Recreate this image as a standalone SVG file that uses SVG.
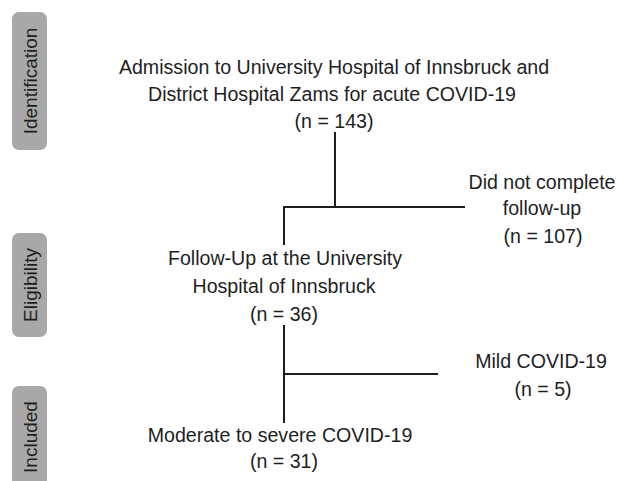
<svg xmlns="http://www.w3.org/2000/svg" width="617" height="481" viewBox="0 0 617 481">
<style>
.t{font-family:"Liberation Sans",Arial,sans-serif;font-size:19.6px;fill:#1e1e1e;text-anchor:middle}
.s{font-size:19px}
.side{fill:#a8a8a8}
.c{stroke:#1e1e1e;stroke-width:2;fill:none}
</style>
<rect width="617" height="481" fill="#fff"/>
<g id="stage-identification"><rect class="side" x="12" y="12" width="35" height="138" rx="7"/><text class="t s" transform="translate(37,81) rotate(-90)">Identification</text></g>
<g id="stage-eligibility"><rect class="side" x="12" y="233" width="35" height="104" rx="7"/><text class="t s" transform="translate(37,285) rotate(-90)">Eligibility</text></g>
<g id="stage-included"><rect class="side" x="12" y="386" width="35" height="110" rx="7"/><text class="t s" transform="translate(37,437) rotate(-90)">Included</text></g>
<g id="admission"><text class="t" x="334" y="74">Admission to University Hospital of Innsbruck and</text><text class="t" x="332" y="101">District Hospital Zams for acute COVID-19</text><text class="t" x="334" y="128">(n = 143)</text></g>
<g id="not-completed"><text class="t" x="542" y="189">Did not complete</text><text class="t" x="542" y="215">follow-up</text><text class="t" x="543" y="243">(n = 107)</text></g>
<g id="follow-up"><text class="t" x="285" y="265">Follow-Up at the University</text><text class="t" x="284" y="293">Hospital of Innsbruck</text><text class="t" x="284" y="321">(n = 36)</text></g>
<g id="mild"><text class="t" x="541" y="368">Mild COVID-19</text><text class="t" x="543" y="396">(n = 5)</text></g>
<g id="moderate"><text class="t" x="280" y="442">Moderate to severe COVID-19</text><text class="t" x="284" y="468">(n = 31)</text></g>
<g id="connectors">
<path class="c" d="M335 132V207M283 207H465M284 206V245"/>
<path class="c" d="M284 325V423M284 374H438"/>
</g>
</svg>
